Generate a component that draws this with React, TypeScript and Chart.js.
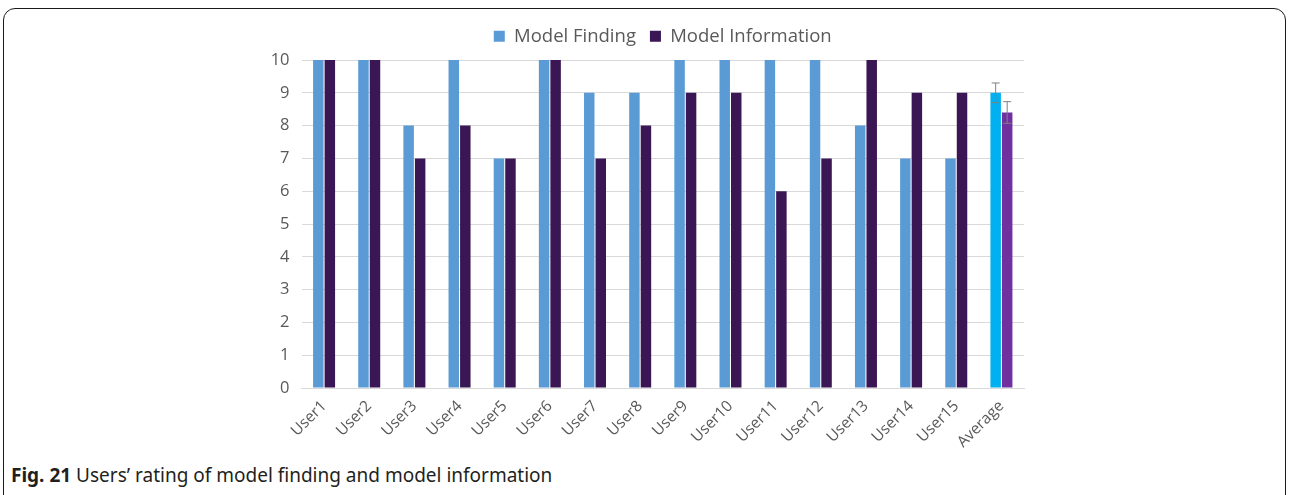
import React, { useEffect, useRef } from "react";
import { Chart, registerables } from "chart.js";

Chart.register(...registerables);

const categories = [
  "User1", "User2", "User3", "User4", "User5", "User6", "User7", "User8",
  "User9", "User10", "User11", "User12", "User13", "User14", "User15", "Average",
];
const modelFinding = [10, 10, 8, 10, 7, 10, 9, 9, 10, 10, 10, 10, 8, 7, 7, 9.0];
const modelInformation = [10, 10, 7, 8, 7, 10, 7, 8, 9, 9, 6, 7, 10, 9, 9, 8.4];
const averageError = [0.3, 0.33];
const yMin = 0;
const yMax = 10;
const seriesNames = ["Model Finding", "Model Information"];

const BLUE = "#5B9BD5";
const DARK_PURPLE = "#3A1654";
const CYAN = "#00B0F0";
const PURPLE = "#7030A0";
const TEXT = "#595959";
const GRID = "#D9D9D9";
const FONT = "'Open Sans', 'Noto Sans', sans-serif";

const errorBarPlugin = {
  id: "errorBars",
  afterDatasetsDraw(chart: any) {
    const ctx = chart.ctx;
    const yScale = chart.scales.y;
    chart.data.datasets.forEach((ds: any, i: number) => {
      const meta = chart.getDatasetMeta(i);
      const idx = ds.data.length - 1;
      const bar = meta.data[idx];
      if (!bar) return;
      const v = ds.data[idx];
      const err = averageError[i];
      const yTop = yScale.getPixelForValue(v + err);
      const yBot = yScale.getPixelForValue(v - err);
      ctx.save();
      ctx.strokeStyle = "#808080";
      ctx.lineWidth = 1;
      ctx.beginPath();
      ctx.moveTo(bar.x, yTop);
      ctx.lineTo(bar.x, yBot);
      ctx.moveTo(bar.x - 4, yTop);
      ctx.lineTo(bar.x + 4, yTop);
      ctx.moveTo(bar.x - 4, yBot);
      ctx.lineTo(bar.x + 4, yBot);
      ctx.stroke();
      ctx.restore();
    });
  },
};

const legendHeightPlugin = {
  id: "legendHeight",
  beforeLayout(chart: any) {
    const legend = chart.legend;
    if (legend && !legend.__patched) {
      const origFit = legend.fit.bind(legend);
      legend.fit = function () {
        origFit();
        this.height = 47;
      };
      legend.__patched = true;
    }
  },
};

export default function App() {
  const canvasRef = useRef<HTMLCanvasElement | null>(null);

  useEffect(() => {
    document.body.style.margin = "0";
    const canvas = canvasRef.current;
    if (!canvas) return;
    const last = categories.length - 1;
    const chart = new Chart(canvas, {
      type: "bar",
      data: {
        labels: categories,
        datasets: [
          {
            label: seriesNames[0],
            data: modelFinding,
            backgroundColor: categories.map((_, i) => (i === last ? CYAN : BLUE)),
            categoryPercentage: 0.51,
            barPercentage: 0.91,
          },
          {
            label: seriesNames[1],
            data: modelInformation,
            backgroundColor: categories.map((_, i) => (i === last ? PURPLE : DARK_PURPLE)),
            categoryPercentage: 0.51,
            barPercentage: 0.91,
          },
        ],
      },
      options: {
        animation: false,
        responsive: false,
        maintainAspectRatio: false,
        devicePixelRatio: 1,
        layout: { padding: { top: 13, right: 266, left: 0, bottom: 0 } },
        plugins: {
          tooltip: { enabled: false },
          legend: {
            position: "top",
            fullSize: false,
            labels: {
              color: TEXT,
              font: { family: FONT, size: 18.5 },
              boxWidth: 11,
              boxHeight: 11,
              padding: 14,
              generateLabels: () => [
                { text: seriesNames[0], fillStyle: BLUE, strokeStyle: BLUE, lineWidth: 0, fontColor: TEXT, datasetIndex: 0 },
                { text: seriesNames[1], fillStyle: DARK_PURPLE, strokeStyle: DARK_PURPLE, lineWidth: 0, fontColor: TEXT, datasetIndex: 1 },
              ],
            },
          },
        },
        scales: {
          x: {
            grid: { display: false, drawTicks: false },
            border: { display: true, color: GRID, width: 1 },
            ticks: {
              color: TEXT,
              font: { family: FONT, size: 15.5 },
              minRotation: 45,
              maxRotation: 45,
              padding: 9,
              autoSkip: false,
            },
            afterFit: (scale: any) => {
              scale.height = 62;
            },
          },
          y: {
            min: yMin,
            max: yMax,
            grid: { color: GRID, lineWidth: 1, drawTicks: false },
            border: { display: false },
            ticks: {
              stepSize: 1,
              color: TEXT,
              font: { family: FONT, size: 16.5 },
              padding: 12,
            },
            afterFit: (scale: any) => {
              scale.width = 301.5;
            },
          },
        },
      },
      plugins: [errorBarPlugin, legendHeightPlugin],
    });
    return () => chart.destroy();
  }, []);

  return (
    <div
      style={{
        position: "absolute",
        left: 0,
        top: 0,
        width: 1290,
        height: 495,
        overflow: "hidden",
        background: "#fff",
      }}
    >
      <div
        style={{
          position: "absolute",
          left: 3,
          top: 8,
          width: 1283,
          height: 500,
          border: "1.5px solid #1a1a1a",
          borderRadius: 12,
          boxSizing: "border-box",
        }}
      />
      <canvas
        ref={canvasRef}
        width={1290}
        height={450}
        style={{ position: "absolute", left: 0, top: 0, width: 1290, height: 450 }}
      />
      <div
        style={{
          position: "absolute",
          left: 11,
          top: 463,
          fontFamily: "'Noto Sans', 'Open Sans', sans-serif",
          fontSize: 19,
          color: "#231F20",
          whiteSpace: "nowrap",
          lineHeight: "24px",
        }}
      >
        <span style={{ fontWeight: 700 }}>Fig. 21</span> Users’ rating of model finding and model information
      </div>
    </div>
  );
}
